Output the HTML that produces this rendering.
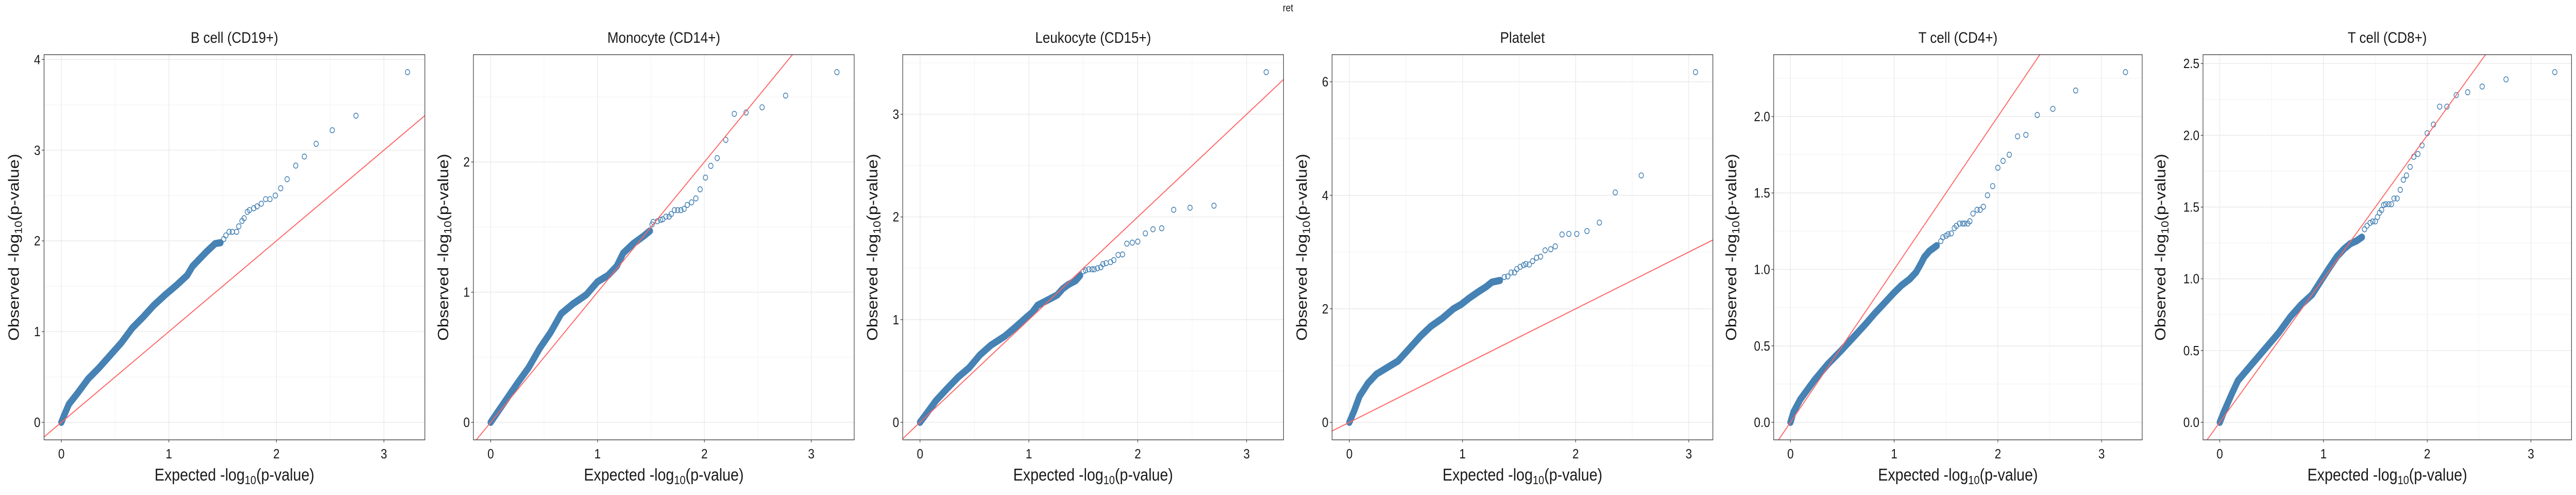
<!DOCTYPE html>
<html><head><meta charset="utf-8">
<style>
html,body{margin:0;padding:0;background:#fff;width:100%;height:100%;overflow:hidden;}
svg{display:block;font-family:"Liberation Sans",Arial,sans-serif;overflow:hidden;width:100vw;height:100vh;}
</style></head>
<body>
<svg id="chart" viewBox="0 0 5760 960" preserveAspectRatio="none" xmlns="http://www.w3.org/2000/svg">
<rect x="0" y="0" width="5760" height="960" fill="#fff"/>
<text x="2880" y="22" font-size="20" text-anchor="middle" fill="#1a1a1a">ret</text>
</svg>
<script>
const titles = ["B cell (CD19+)","Monocyte (CD14+)","Leukocyte (CD15+)","Platelet","T cell (CD4+)","T cell (CD8+)"];
const xTicks = [0,1,2,3];
const yTicksB = [0,1,2,3,4];
const yTicksMono = [0,1,2];
const yTicksLeuk = [0,1,2,3];
const yTicksPlt = [0,2,4,6];
const yTicksCD4 = [0.0,0.5,1.0,1.5,2.0];
const yTicksCD8 = [0.0,0.5,1.0,1.5,2.0,2.5];
const yLabelsCD4 = ["0.0","0.5","1.0","1.5","2.0"];
const yLabelsCD8 = ["0.0","0.5","1.0","1.5","2.0","2.5"];
const tailCounts = [24,25,23,23,27,30];

const bcellExpected = [3.22,2.74,2.52,2.37,2.26,2.18,2.10,2.04,1.99,1.94,1.90,1.86,1.82,1.79,1.75,1.73,1.70,1.68,1.65,1.63,1.59,1.56,1.53,1.51,
 1.48,1.43,1.35,1.22,1.17,1.07,0.97,0.86,0.76,0.66,0.56,0.455,0.35,0.25,0.15,0.07,0.02,0];
const bcellObserved = [3.86,3.38,3.22,3.07,2.93,2.83,2.68,2.58,2.50,2.46,2.46,2.41,2.38,2.36,2.34,2.32,2.25,2.22,2.16,2.10,2.10,2.10,2.06,2.02,
 1.98,1.97,1.88,1.72,1.62,1.51,1.41,1.29,1.16,1.04,0.88,0.74,0.60,0.48,0.32,0.20,0.06,0];

const monoExpected = [3.24,2.76,2.54,2.39,2.28,2.20,2.12,2.06,2.01,1.96,1.92,1.88,1.84,1.81,1.78,1.75,1.72,1.69,1.67,1.64,1.61,1.59,1.56,1.52,1.51,
 1.49,1.43,1.33,1.24,1.18,1.10,1.00,0.895,0.77,0.66,0.56,0.46,0.355,0.25,0.15,0.046,0];
const monoObserved = [2.69,2.51,2.42,2.38,2.37,2.17,2.03,1.97,1.88,1.79,1.72,1.69,1.67,1.64,1.63,1.63,1.63,1.60,1.58,1.58,1.56,1.555,1.545,1.54,1.52,
 1.47,1.43,1.37,1.30,1.20,1.13,1.08,0.98,0.91,0.835,0.69,0.57,0.42,0.30,0.18,0.056,0];

const leukExpected = [3.18,2.70,2.48,2.33,2.22,2.14,2.07,2.00,1.95,1.90,1.86,1.82,1.78,1.75,1.71,1.68,1.66,1.63,1.60,1.58,1.55,1.52,1.50,
 1.47,1.43,1.36,1.31,1.26,1.18,1.08,1.03,0.98,0.88,0.78,0.65,0.55,0.45,0.35,0.25,0.146,0.07,0];
const leukObserved = [3.41,2.11,2.09,2.07,1.89,1.88,1.84,1.76,1.75,1.74,1.635,1.63,1.58,1.56,1.55,1.54,1.51,1.50,1.49,1.49,1.49,1.48,1.47,
 1.43,1.38,1.34,1.30,1.24,1.195,1.14,1.07,1.025,0.93,0.84,0.75,0.656,0.53,0.44,0.33,0.21,0.10,0];

const pltExpected = [3.06,2.58,2.35,2.21,2.10,2.01,1.94,1.88,1.82,1.78,1.73,1.69,1.655,1.62,1.59,1.56,1.54,1.51,1.48,1.46,1.43,1.40,1.37,
 1.33,1.26,1.21,1.14,1.06,0.99,0.92,0.82,0.72,0.63,0.53,0.43,0.335,0.24,0.165,0.09,0.044,0];
const pltObserved = [6.17,4.35,4.05,3.52,3.37,3.32,3.32,3.31,3.10,3.05,3.03,2.92,2.90,2.84,2.78,2.79,2.77,2.74,2.70,2.64,2.64,2.57,2.56,
 2.50,2.47,2.39,2.30,2.19,2.08,2.00,1.83,1.69,1.52,1.30,1.08,0.965,0.85,0.69,0.46,0.21,0];

const cd4Expected = [3.23,2.75,2.53,2.38,2.27,2.19,2.11,2.05,2.00,1.95,1.90,1.86,1.83,1.80,1.76,1.73,1.71,1.68,1.66,1.63,1.60,1.58,1.55,1.52,1.50,1.47,1.45,
 1.41,1.34,1.29,1.26,1.21,1.15,1.07,0.995,0.92,0.81,0.73,0.62,0.49,0.36,0.23,0.095,0.03,0];
const cd4Observed = [2.29,2.17,2.05,2.01,1.88,1.87,1.75,1.71,1.665,1.545,1.485,1.41,1.39,1.39,1.365,1.315,1.30,1.30,1.30,1.30,1.285,1.27,1.235,1.23,1.22,1.21,1.185,
 1.155,1.12,1.08,1.04,0.98,0.937,0.895,0.845,0.79,0.71,0.647,0.565,0.47,0.38,0.275,0.15,0.068,0];

const cd8Expected = [3.23,2.76,2.53,2.39,2.28,2.19,2.12,2.06,2.00,1.95,1.91,1.87,1.835,1.80,1.77,1.74,1.71,1.68,1.655,1.63,1.60,1.58,1.56,1.54,1.52,1.50,1.475,1.45,1.42,1.395,
 1.37,1.32,1.26,1.20,1.13,1.05,0.97,0.89,0.785,0.68,0.57,0.44,0.31,0.175,0.12,0.04,0];
const cd8Observed = [2.44,2.39,2.34,2.30,2.28,2.20,2.20,2.075,2.015,1.93,1.87,1.85,1.78,1.72,1.69,1.62,1.56,1.56,1.52,1.52,1.52,1.515,1.48,1.46,1.43,1.40,1.40,1.39,1.37,1.345,
 1.29,1.265,1.245,1.21,1.155,1.07,0.98,0.89,0.82,0.735,0.625,0.515,0.405,0.29,0.205,0.073,0];

const panels = [
 {ex:bcellExpected, ob:bcellObserved, yt:yTicksB, yl:null, left:98.5},
 {ex:monoExpected, ob:monoObserved, yt:yTicksMono, yl:null, left:98.5},
 {ex:leukExpected, ob:leukObserved, yt:yTicksLeuk, yl:null, left:98.5},
 {ex:pltExpected, ob:pltObserved, yt:yTicksPlt, yl:null, left:98.5},
 {ex:cd4Expected, ob:cd4Observed, yt:yTicksCD4, yl:yLabelsCD4, left:126},
 {ex:cd8Expected, ob:cd8Observed, yt:yTicksCD8, yl:yLabelsCD8, left:126}
];

const NS = "http://www.w3.org/2000/svg";
const svg = document.getElementById("chart");
function mk(tag, attrs, parent){
  const e = document.createElementNS(NS, tag);
  for (const k in attrs) e.setAttribute(k, attrs[k]);
  (parent||svg).appendChild(e);
  return e;
}
const TOP = 106, BOTTOM = 853, RIGHT = 950;
const BLUE = "#4682B4", RED = "#FF6464";

panels.forEach((p, i) => {
  const off = i * 960;
  const g = mk("g", {transform: "translate(" + off + ",0)"});
  
  
  const L = p.left;
  const xmax = Math.max(...p.ex), ymax = Math.max(...p.ob);
  const x0 = -0.05*xmax, x1 = 1.05*xmax, y0 = -0.05*ymax, y1 = 1.05*ymax;
  const sx = v => L + (v - x0) / (x1 - x0) * (RIGHT - L);
  const sy = v => BOTTOM - (v - y0) / (y1 - y0) * (BOTTOM - TOP);

  const clipId = "clip" + i;
  const cp = mk("clipPath", {id: clipId}, g);
  mk("rect", {x: L, y: TOP, width: RIGHT - L, height: BOTTOM - TOP}, cp);

  const bg = mk("rect", {x: L, y: TOP, width: RIGHT - L, height: BOTTOM - TOP, fill: "#fff"}, g);
  
  

  const ystep = p.yt[1] - p.yt[0];
  for (let k = -1; k < p.yt.length; k++) {
    const v = p.yt[0] + (k + 0.5) * ystep;
    if (v < y0 || v > y1) continue;
    const ln = mk("line", {x1: L, x2: RIGHT, y1: sy(v), y2: sy(v), stroke: "#F4F4F4", "stroke-width": 1.2}, g);
    
    
  }
  for (let k = -1; k < xTicks.length; k++) {
    const v = k + 0.5;
    if (v < x0 || v > x1) continue;
    const ln = mk("line", {x1: sx(v), x2: sx(v), y1: TOP, y2: BOTTOM, stroke: "#F4F4F4", "stroke-width": 1.2}, g);
    
    
  }
  p.yt.forEach((v, k) => {
    const y = sy(v);
    const ln = mk("line", {x1: L, x2: RIGHT, y1: y, y2: y, stroke: "#EBEBEB", "stroke-width": 1.6}, g);
    
    
    const tk = mk("line", {x1: L - 5, x2: L, y1: y, y2: y, stroke: "#333", "stroke-width": 1.2}, g);
    
    
    const t = mk("text", {x: L - 8, y: y + 9, "font-size": 26, "text-anchor": "end", fill: "#1a1a1a"}, g);
    t.textContent = p.yl ? p.yl[k] : String(v);
    
    
  });
  xTicks.forEach(v => {
    const x = sx(v);
    const ln = mk("line", {x1: x, x2: x, y1: TOP, y2: BOTTOM, stroke: "#EBEBEB", "stroke-width": 1.6}, g);
    
    
    const tk = mk("line", {x1: x, x2: x, y1: BOTTOM, y2: BOTTOM + 5, stroke: "#333", "stroke-width": 1.2}, g);
    
    
    const t = mk("text", {x: x, y: 889, "font-size": 26, "text-anchor": "middle", fill: "#1a1a1a"}, g);
    t.textContent = String(v);
    
    
  });

  const inner = mk("g", {"clip-path": "url(#" + clipId + ")"}, g);
  const tc = tailCounts[i];
  let d = "";
  for (let k = tc; k < p.ex.length; k++) d += (k === tc ? "M" : "L") + sx(p.ex[k]).toFixed(1) + "," + sy(p.ob[k]).toFixed(1);
  const band = mk("path", {d: d, fill: "none", stroke: BLUE, "stroke-width": 14, "stroke-linecap": "round", "stroke-linejoin": "round"}, inner);
  
  
  for (let k = 0; k < p.ex.length; k++) {
    const c = mk("circle", {cx: sx(p.ex[k]), cy: sy(p.ob[k]), r: 5, fill: "none", stroke: BLUE, "stroke-width": 1.6}, inner);
    
    
  }
  const lo = Math.max(x0, y0), hi = Math.min(x1, y1);
  const idl = mk("line", {x1: sx(lo), y1: sy(lo), x2: sx(hi), y2: sy(hi), stroke: RED, "stroke-width": 2}, inner);
  
  

  const border = mk("rect", {x: L, y: TOP, width: RIGHT - L, height: BOTTOM - TOP, fill: "none", stroke: "#333", "stroke-width": 1.3}, g);
  
  

  const cx = (L + RIGHT) / 2;
  const title = mk("text", {x: cx, y: 83, "font-size": 30, "text-anchor": "middle", fill: "#1a1a1a"}, g);
  title.textContent = titles[i];
  
  

  const xt = mk("text", {x: cx, y: 932, "font-size": 33, "text-anchor": "middle", fill: "#1a1a1a"}, g);
  xt.innerHTML = 'Expected -log<tspan font-size="23" dy="7">10</tspan><tspan dy="-7">(p-value)</tspan>';
  
  

  const cy = (TOP + BOTTOM) / 2;
  const yt = mk("text", {x: 0, y: 0, "font-size": 33, "text-anchor": "middle", fill: "#1a1a1a", transform: "translate(42," + cy + ") rotate(-90)"}, g);
  yt.innerHTML = 'Observed -log<tspan font-size="23" dy="7">10</tspan><tspan dy="-7">(p-value)</tspan>';
  
  
});
</script>
</body></html>
